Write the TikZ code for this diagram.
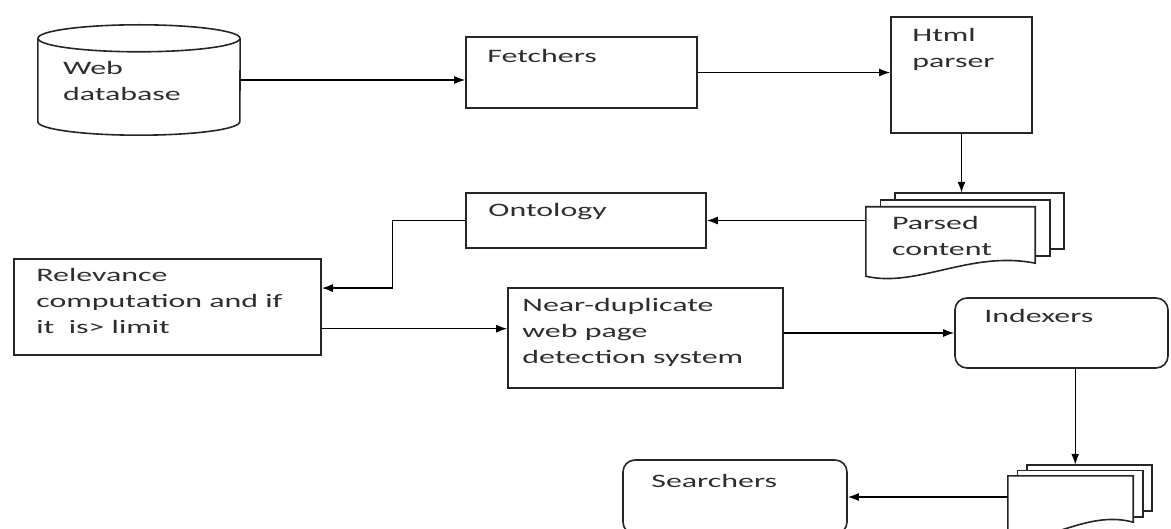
\documentclass[tikz,border=0pt]{standalone}
\usepackage{fontspec}
\usepackage{tikz}
\usetikzlibrary{arrows.meta}
\usetikzlibrary{calc}
\newfontfamily\lblfont[FakeStretch=1.68]{Carlito}
\newcommand{\lbl}{\lblfont\fontsize{19}{26}\selectfont}
\tikzset{%
  box/.style={rectangle, draw=black!85, line width=1.6pt, inner sep=0pt},
  roundbox/.style={box, rounded corners=12pt},
  ghost/.style={rectangle, inner sep=0pt},
  sheet/.style={draw=black!85, line width=1.6pt},
  txt/.style={anchor=north west, inner sep=0pt, align=left, text=black!82, font=\lbl},
  flow/.style={-{Latex[length=11pt,width=8pt]}, line width=1.4pt}
}
% stack of three sheets round a front node
\newcommand{\docstack}[3]{%
  \draw [sheet] ($(#1.north west)+(2*#2,-#3)$) -- ++(0,-#3) -- ($(#1.north east)+(2*#2,-2*#3)$)
        -- ($(#1.south east)+(2*#2,-13-2*#3)$) -- ++(-#2,0);
  \draw [sheet] ($(#1.north west)+(#2,0)$) -- ++(0,-#3) -- ($(#1.north east)+(#2,-#3)$)
        -- ($(#1.south east)+(#2,-13-#3)$) -- ++(-#2,0);
  \draw [sheet, fill=white] (#1.north west) -- (#1.north east) -- ($(#1.south east)+(0,-13)$)
        .. controls ($(#1.south west)!0.62!(#1.south east)+(0,-26)$) and ($(#1.south west)!0.3!(#1.south east)+(0,12)$)
        .. (#1.south west) -- cycle;
  \coordinate (#1-top) at ($(#1.north west)+(2*#2,-2*#3)$);
}

\begin{document}
\begin{tikzpicture}[x=1pt, y=-1pt]
        \useasboundingbox (0,0) rectangle (1171,529);
        \clip (0,0) rectangle (1171,529);

        \node [ghost, minimum width=202pt, minimum height=110pt]   (db)     at (139,80)      {};
        \node [box, minimum width=231pt, minimum height=71pt]      (fetch)  at (581.5,72.5)  {};
        \node [box, minimum width=141pt, minimum height=116pt]     (html)   at (961.5,75)    {};
        \node [ghost, minimum width=169pt, minimum height=69pt]    (parsed) at (950.5,241.5) {};
        \node [box, minimum width=240pt, minimum height=55pt]      (onto)   at (586,220.5)   {};
        \node [box, minimum width=307pt, minimum height=96pt]      (relev)  at (167.5,307)   {};
        \node [box, minimum width=275pt, minimum height=100pt]     (near)   at (645.5,338)   {};
        \node [roundbox, minimum width=213pt, minimum height=70pt] (index)  at (1061.5,333)  {};
        \node [ghost, minimum width=125pt, minimum height=59pt]    (docs)   at (1070.5,505.5) {};
        \node [roundbox, minimum width=224pt, minimum height=74pt] (search) at (735,497)     {};

        % database cylinder
        \draw [sheet] ($(db.north)+(0,13.5)$) ellipse [x radius=101, y radius=13.5];
        \draw [sheet] ($(db.north west)+(0,13.5)$) -- ($(db.south west)+(0,-13.5)$)
              arc [start angle=180, end angle=0, x radius=101, y radius=13.5] -- ($(db.north east)+(0,13.5)$);

        \docstack{parsed}{14.5}{7}
        \docstack{docs}{9.5}{5.5}

        \node [txt] (db-txt)     at ($(db.north west)+(25,36)$)     {Web\\database};
        \node [txt] (fetch-txt)  at ($(fetch.north west)+(22,12.5)$) {Fetchers};
        \node [txt] (html-txt)   at ($(html.north west)+(22,11.5)$)  {Html\\parser};
        \node [txt] (parsed-txt) at ($(parsed.north west)+(26,9.5)$) {Parsed\\content};
        \node [txt] (onto-txt)   at ($(onto.north west)+(23,10.5)$)  {Ontology};
        \node [txt] (relev-txt)  at ($(relev.north west)+(23,9.5)$)  {Relevance\\computation and if\\it\ \ is> limit};
        \node [txt] (near-txt)   at ($(near.north west)+(15,10.5)$)  {Near-duplicate\\web page\\detection system};
        \node [txt] (index-txt)  at ($(index.north west)+(30,11.5)$) {Indexers};
        \node [txt] (search-txt) at ($(search.north west)+(29,14.5)$) {Searchers};

        \draw [flow] (db.east) -- (db.east -| fetch.west);
        \draw [flow] (fetch.east) -- (fetch.east -| html.west);
        \draw [flow] (html.south) -- (html.south |- parsed-top);
        \draw [flow] (parsed.west |- onto.east) -- (onto.east);
        \draw [flow] (onto.west) -- ++(-73,0) |- (relev.7);
        \draw [flow] (relev.352) -- (relev.352 -| near.west);
        \draw [flow] (near.east |- index.west) -- (index.west);
        \draw [flow] (index.-69) -- (index.-69 |- docs-top);
        \draw [flow] (docs.west |- search.east) -- (search.east);
\end{tikzpicture}
\end{document}
